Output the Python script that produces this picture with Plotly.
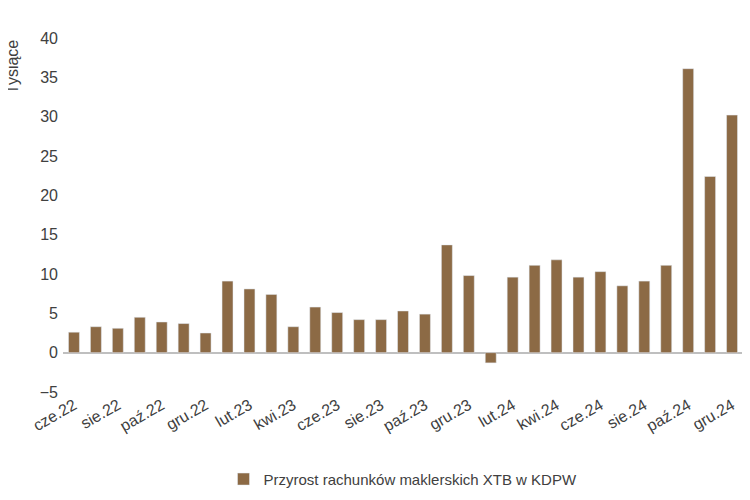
import plotly.graph_objects as go

month_names = ["sty", "lut", "mar", "kwi", "maj", "cze", "lip", "sie", "wrz", "paź", "lis", "gru"]
labels = [f"{month_names[(5 + i) % 12]}.{22 + (5 + i) // 12}" for i in range(31)]

values = [2.6, 3.3, 3.1, 4.5, 3.9, 3.7, 2.5, 9.1, 8.1, 7.4, 3.3, 5.8, 5.1, 4.2, 4.2, 5.3,
          4.9, 13.7, 9.8, -1.3, 9.6, 11.1, 11.8, 9.6, 10.3, 8.5, 9.1, 11.1, 36.1, 22.4, 30.2]

fig = go.Figure()
fig.add_trace(go.Bar(x=labels, y=values, name="Przyrost rachunków maklerskich XTB w KDPW",
                     marker_color="#8c6a45", width=0.5, showlegend=True))
fig.update_layout(
    width=750, height=500,
    plot_bgcolor="white", paper_bgcolor="white",
    font=dict(family="Liberation Sans, Arial", size=16, color="#404040"),
    margin=dict(l=55, r=15, t=30, b=92),
    showlegend=True,
    legend=dict(orientation="h", x=0.5, xanchor="center", y=-0.2, yanchor="top", font=dict(size=15)),
    yaxis=dict(range=[-5, 40], dtick=5, showgrid=False, zeroline=True, zerolinecolor="#bfbfbf",
               ticklabelstandoff=4),
    xaxis=dict(tickmode="array", tickvals=labels[::2], ticktext=labels[::2], tickangle=-30,
               showline=False, showgrid=False),
    annotations=[dict(text="Tysiące", xref="paper", yref="paper", x=-0.075, y=1.0,
                      xanchor="center", yanchor="top", textangle=-90, showarrow=False,
                      font=dict(size=16))],
)
fig.write_html("out.html")
